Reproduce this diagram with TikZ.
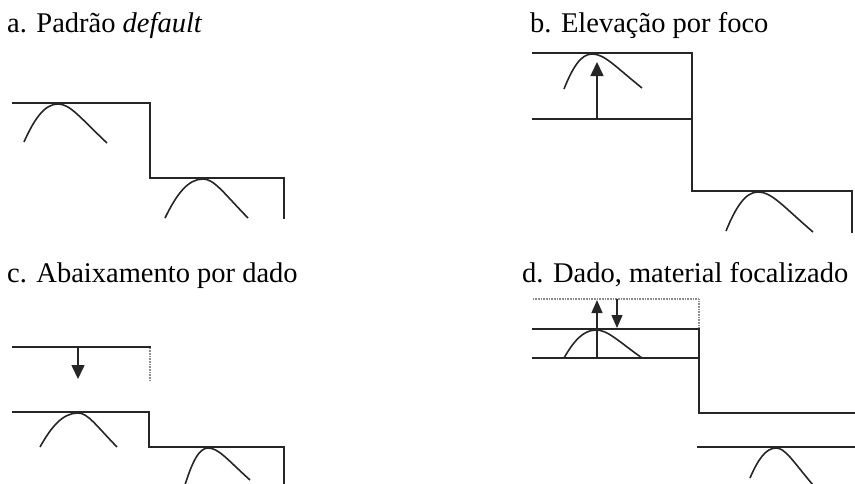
\documentclass[tikz,border=0pt]{standalone}
\usepackage{fontspec}
\setmainfont{Liberation Serif}
\usetikzlibrary{arrows.meta}
\newcommand\humpcurve[6]{\draw[curveline] (#1,#2) .. controls ({#1+0.3*(#3-#1)},{#4+0.4*(#2-#4)}) and ({#3-0.4*(#3-#1)},#4) .. (#3,#4) .. controls ({#3+0.25*(#5-#3)},#4) and ({#3+0.45*(#5-#3)},{#4+0.35*(#6-#4)}) .. (#5,#6);}
\begin{document}
\begin{tikzpicture}[x=1pt,y=-1pt,
  mainline/.style={line width=2pt,black!85,line cap=rect},
  curveline/.style={line width=1.6pt,black!85},
  dotline/.style={line width=1.1pt,black!45,dash pattern=on 1pt off 0.6pt},
  bigarrow/.style={line width=1.6pt,black!85,-{Triangle[length=14pt,width=13pt]}},
  smallarrow/.style={line width=1.4pt,black!85,-{Triangle[length=13pt,width=11pt]}},
  title/.style={anchor=base west,inner sep=0pt,font=\fontsize{28.5}{32}\selectfont,text=black}]
\useasboundingbox (0,0) rectangle (855,483);
% titles
\node[title] (ta) at (7,32) {a. Padrão \textit{default}};
\node[title] (tb) at (530,32) {b. Elevação por foco};
\node[title] (tc) at (7,282) {c. Abaixamento por dado};
\node[title] (td) at (522,282) {d. Dado, material focalizado};
% panel a
\draw[mainline] (13,103) -- (150,103) -- (150,178) -- (284,178) -- (284,218);
\humpcurve{24}{142}{58}{104}{107}{143}
\humpcurve{165}{218}{203}{179}{248}{218}
% panel b
\draw[mainline] (533,53) -- (692,53) -- (692,191) -- (852,191) -- (852,232);
\draw[mainline] (533,119) -- (692,119);
\humpcurve{564}{89}{592}{54}{642}{88}
\draw[bigarrow] (597,119) -- (597,62);
\humpcurve{726}{231}{758}{192}{813}{232}
% panel c
\draw[mainline] (13,347) -- (150,347);
\draw[dotline] (150,348) -- (150,381);
\draw[bigarrow] (78,347) -- (78,379);
\draw[mainline] (13,412) -- (149,412) -- (149,447) -- (284,447) -- (284,485);
\humpcurve{40}{447}{78}{413}{117}{447}
\humpcurve{185}{485}{208}{448}{250}{480}
% panel d
\draw[dotline] (533,299) -- (699,299) -- (699,329);
\draw[mainline] (533,329) -- (699,329);
\draw[mainline] (533,358) -- (699,358);
\draw[mainline] (699,329) -- (699,413) -- (857,413);
\draw[mainline] (698,447) -- (857,447);
\humpcurve{564}{358}{596}{330}{642}{358}
\draw[smallarrow] (597,358) -- (597,300);
\draw[smallarrow] (617,299) -- (617,328);
\humpcurve{750}{478}{776}{448}{813}{485}
\end{tikzpicture}
\end{document}
